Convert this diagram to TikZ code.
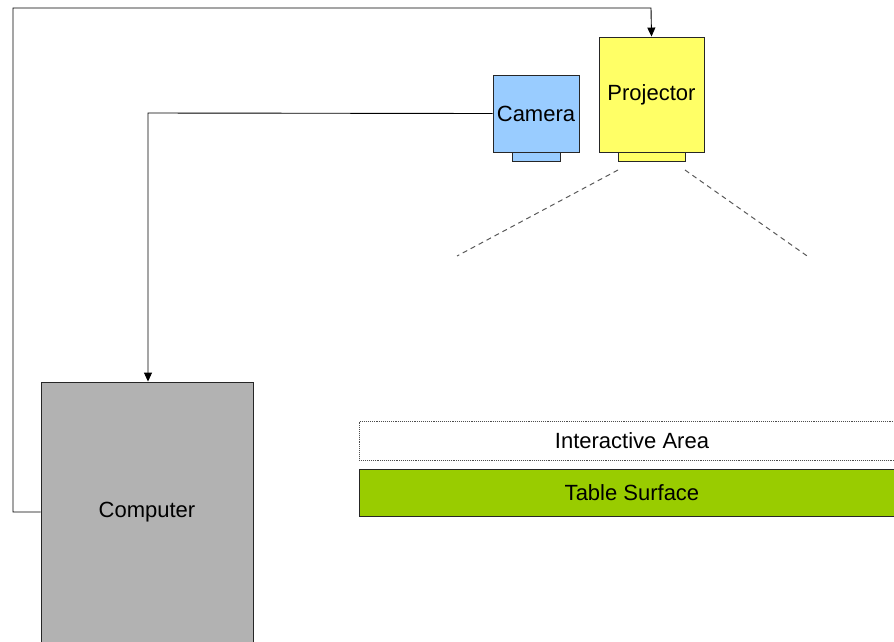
\documentclass[tikz,border=0pt]{standalone}
\usepackage{fontspec}
\setmainfont{Liberation Sans}
\usetikzlibrary{arrows.meta}
\definecolor{projyellow}{HTML}{FFFF66}
\definecolor{camblue}{HTML}{99CCFF}
\definecolor{compgray}{HTML}{B2B2B2}
\definecolor{tablegreen}{HTML}{99CC00}
\begin{document}
\begin{tikzpicture}[x=1pt,y=-1pt,
  lbl/.style={font=\fontsize{22}{26}\selectfont},
  box/.style={draw=black!85, line width=0.9pt, inner sep=0pt, lbl},
  conn/.style={draw=black, line width=0.9pt},
  arr/.style={conn, -{Triangle[length=9pt,width=8pt]}},
  beam/.style={draw=black!65, dashed, dash pattern=on 5pt off 4pt, line width=1pt}]
\useasboundingbox (0,0) rectangle (894,641);
% devices
\node[box, fill=projyellow, minimum width=105pt, minimum height=115pt] (proj) at (651.5,94.5) {\raisebox{-2pt}{Projector}};
\node[box, fill=projyellow, minimum width=67pt, minimum height=9pt, anchor=north] (projlens) at (proj.south) {};
\node[box, fill=camblue, minimum width=86pt, minimum height=77pt] (cam) at (536,113.5) {Camera};
\node[box, fill=camblue, minimum width=48pt, minimum height=9pt, anchor=north] (camlens) at (cam.south) {};
\node[box, fill=compgray, minimum width=212pt, minimum height=260pt] (comp) at (147,512) {Computer};
% surfaces
\node[box, draw=black!70, densely dotted, line width=0.8pt, fill=white, minimum width=540pt, minimum height=39pt, anchor=north west] (area) at (359,421) {};
\node[lbl] (areatext) at (632,440.5) {Interactive Area};
\node[box, fill=tablegreen, minimum width=540pt, minimum height=47pt, anchor=north west] (table) at (359,469) {};
\node[lbl] (tabletext) at (632,492.5) {Table Surface};
% connectors
\coordinate (c1) at (13,512);
\coordinate (c2) at (13,8);
\coordinate (c3) at (651,8);
\draw[arr] (comp.west) -- (c1) -- (c2) -- (c3) -- (proj.north);
\coordinate (d1) at (148,113);
\draw[arr] (cam.west) -- (d1) -- (comp.north -| d1);
% projection beams
\coordinate (bl0) at (618,170);
\coordinate (bl1) at (457,256);
\coordinate (br0) at (685,170);
\coordinate (br1) at (810,258);
\draw[beam] (bl0) -- (bl1);
\draw[beam] (br0) -- (br1);
\end{tikzpicture}
\end{document}
